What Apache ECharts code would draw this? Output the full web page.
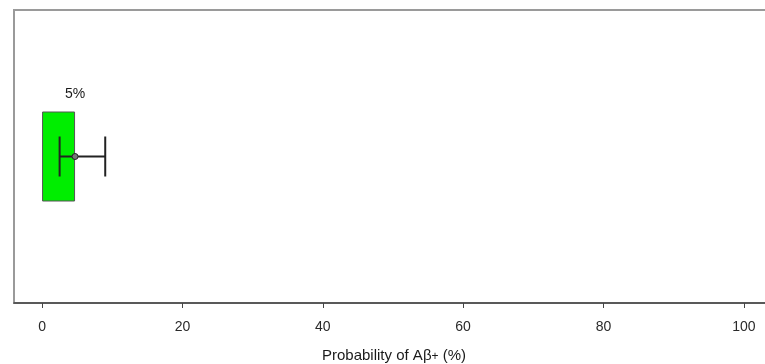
<!DOCTYPE html>
<html>
<head>
<meta charset="utf-8">
<script src="https://cdn.jsdelivr.net/npm/echarts@6/dist/echarts.min.js"></script>
<style>
  html, body { margin: 0; padding: 0; background: #fff; }
  #chart { width: 765px; height: 364px; }
</style>
</head>
<body>
<div id="chart"></div>
<script>
// data
var categories = ['Aβ+'];
var estimate = [4.7];
var ciLow = [2.5];
var ciHigh = [9.0];
var labels = ['5%'];
var xTicks = [0, 20, 40, 60, 80, 100];

var chartDom = document.getElementById('chart');
var myChart = echarts.init(chartDom);

var option = {
  animation: false,
  grid: {
    show: true,
    left: 14,
    width: 760,
    top: 10,
    bottom: 61,
    borderColor: '#9a9a9a',
    borderWidth: 2,
    containLabel: false,
    outerBoundsMode: 'none'  // 让网格超出右边界
  },
  xAxis: {
    type: 'value',
    min: -4,
    max: 104.3,
    name: 'Probability of Aβ{s|+} (%)',
    nameLocation: 'middle',
    nameGap: 45,
    nameTextStyle: {
      color: '#1a1a1a',
      fontSize: 15,
      fontFamily: 'Liberation Sans',
      rich: {
        s: { fontSize: 12, color: '#1a1a1a', fontFamily: 'Liberation Sans', padding: [3, 0, 0, 0] }
      }
    },
    axisLine: { show: true, onZero: false, lineStyle: { color: '#444', width: 1.5 } },
    axisTick: { show: true, length: 5, customValues: xTicks, lineStyle: { color: '#444' } },
    axisLabel: {
      customValues: xTicks,
      color: '#2a2a2a',
      fontSize: 14,
      fontFamily: 'Liberation Sans',
      margin: 17
    },
    splitLine: { show: false }
  },
  yAxis: {
    type: 'category',
    data: categories,
    axisLine: { show: false },
    axisTick: { show: false },
    axisLabel: { show: false },
    splitLine: { show: false }
  },
  series: [
    {
      type: 'bar',
      data: estimate,
      barWidth: 90,
      itemStyle: { color: '#00ee00', borderColor: '#555', borderWidth: 1 },
      z: 2
    },
    {
      type: 'custom',
      z: 3,
      data: estimate.map(function (v, i) { return [i, v, ciLow[i], ciHigh[i]]; }),
      renderItem: function (params, api) {
        var cat = api.value(0);
        var lo = api.coord([api.value(2), cat]);
        var hi = api.coord([api.value(3), cat]);
        var mid = api.coord([api.value(1), cat]);
        var cap = 20;
        var style = { stroke: '#222', lineWidth: 2 };
        return {
          type: 'group',
          children: [
            { type: 'line', shape: { x1: lo[0], y1: lo[1], x2: hi[0], y2: hi[1] }, style: style },
            { type: 'line', shape: { x1: lo[0], y1: lo[1] - cap, x2: lo[0], y2: lo[1] + cap }, style: style },
            { type: 'line', shape: { x1: hi[0], y1: hi[1] - cap, x2: hi[0], y2: hi[1] + cap }, style: style },
            { type: 'circle', shape: { cx: mid[0], cy: mid[1], r: 3 }, style: { fill: '#777', stroke: '#222', lineWidth: 1 } },
            {
              type: 'text',
              style: {
                x: mid[0], y: mid[1] - 62,
                text: labels[params.dataIndex],
                fill: '#1a1a1a',
                font: '14px "Liberation Sans"',
                align: 'center',
                verticalAlign: 'middle'
              }
            }
          ]
        };
      }
    }
  ]
};

myChart.setOption(option);
window.addEventListener('resize', function () {
  myChart.resize();
});
</script>
</body>
</html>
